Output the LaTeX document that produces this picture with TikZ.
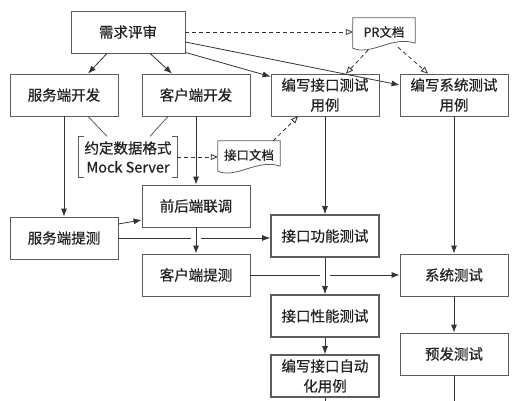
\documentclass[tikz,border=0pt]{standalone}
\usepackage{fontspec}
\newfontfamily\cjk[FakeBold=0.6]{Noto Sans CJK SC}
\usetikzlibrary{arrows.meta,calc}
\definecolor{linegray}{HTML}{333333}
\definecolor{boxgray}{HTML}{5C5C5C}
\definecolor{textgray}{HTML}{222222}

\newcommand{\docoutline}[1]{%
  \draw[boxgray, line width=0.8pt] ([yshift=3pt]#1.south east) -- (#1.north east) -- (#1.north west)
    -- ([yshift=-2pt]#1.south west) .. controls +(18,-8) and +(-22,8) .. ([yshift=3pt]#1.south east);}

\begin{document}
\begin{tikzpicture}[x=1pt, y=1pt,
    box/.style={draw=boxgray, line width=0.8pt, minimum width=108pt, minimum height=42pt,
      inner sep=2pt, align=center, text=textgray, font=\cjk\fontsize{14.5}{20}\selectfont},
    hibox/.style={box, line width=1.6pt},
    doc/.style={minimum width=62pt, minimum height=28pt, inner sep=2pt, text=textgray,
      font=\cjk\fontsize{12.5}{15}\selectfont},
    note/.style={minimum width=98pt, minimum height=41pt, inner sep=2pt, align=center,
      text=textgray, font=\cjk\fontsize{14.5}{19}\selectfont},
    flow/.style={draw=linegray, line width=0.8pt, -{Latex[length=8pt,width=6pt]}},
    ref/.style={draw=linegray, line width=0.8pt, dash pattern=on 4pt off 3pt,
      -{Triangle[open,length=7pt,width=6pt]}},
    jump/.style={preaction={draw=white, line width=10pt, -, shorten <=4pt, shorten >=4pt}}]
    \useasboundingbox (0,0) rectangle (521,400);
    \clip (0,0) rectangle (521,400);

    % Requirements
    \node[box, minimum width=114pt] (xq) at (128,368) {需求评审};
    \node[doc] (pr) at (384,368) {PR文档};
    \docoutline{pr}

    % Development
    \node[box] (fwk) at (64,305) {服务端开发};
    \node[box] (khk) at (196,305) {客户端开发};
    \node[box] (jkyl) at (325,305) {编写接口测试\\用例};
    \node[box] (xtyl) at (454,305) {编写系统测试\\用例};

    % Agreement
    \node[note] (yd) at (128,243) {约定数据格式\\Mock Server};
    \draw[boxgray, line width=0.8pt] ([xshift=5pt]yd.north west) -- (yd.north west) -- (yd.south west) -- ++(5,0);
    \draw[boxgray, line width=0.8pt] ([xshift=-5pt]yd.north east) -- (yd.north east) -- (yd.south east) -- ++(-5,0);
    \node[doc] (jkwd) at (249,245) {接口文档};
    \docoutline{jkwd}

    % Testing
    \node[box] (lt) at (196,194) {前后端联调};
    \node[box] (fwt) at (64,162) {服务端提测};
    \node[box] (kht) at (196,125) {客户端提测};
    \node[hibox] (gn) at (325,164) {接口功能测试};
    \node[box] (xt) at (454,125) {系统测试};
    \node[hibox] (xn) at (325,84) {接口性能测试};
    \node[box] (yf) at (454,46) {预发测试};
    \node[hibox] (zdh) at (325,24) {编写接口自动\\化用例};
    \coordinate (yfout) at (454,-4);
    \coordinate (zdhout) at (325,-4);

    % Links
    \draw[flow] ([xshift=-21pt]xq.south) -- ([xshift=24pt]fwk.north);
    \draw[flow] ([xshift=22pt]xq.south) -- ([xshift=-24pt]khk.north);
    \draw[flow] ([yshift=1pt]xq.south east) -- ([yshift=-3pt]jkyl.north west);
    \draw[flow] ([yshift=-10pt]xq.east) -- ([yshift=10pt]xtyl.west);
    \draw[ref] (xq.east) -- (xq.east -| pr.west);
    \draw[ref] ([xshift=-16pt,yshift=-4pt]pr.south) -- ([xshift=21pt]jkyl.north);
    \draw[ref] ([xshift=14pt,yshift=-1pt]pr.south) -- ([xshift=-26pt]xtyl.north);
    \draw[boxgray, line width=0.8pt] ([xshift=24pt]fwk.south) -- ([xshift=-21pt]yd.north);
    \draw[boxgray, line width=0.8pt] ([xshift=-28pt]khk.south) -- ([xshift=22pt]yd.north);
    \draw[ref] (yd.east) -- (yd.east -| jkwd.west);
    \draw[ref] ([xshift=-7pt]jkwd.north east) -- ([xshift=-27pt]jkyl.south);
    \draw[flow] (fwk.south) -- (fwt.north);
    \draw[flow] (khk.south) -- (lt.north);
    \draw[flow] ([yshift=14pt]fwt.east) -- ([yshift=-14pt]lt.west);
    \draw[flow] (fwt.east) -- (fwt.east -| gn.west);
    \draw[flow] (kht.east) -- (kht.east -| xt.west);
    \draw[flow, jump] (lt.south) -- (kht.north);
    \draw[flow] (jkyl.south) -- (gn.north);
    \draw[flow] (xtyl.south) -- (xt.north);
    \draw[flow, jump] (gn.south) -- (xn.north);
    \draw[flow] (xn.south) -- (zdh.north);
    \draw[flow] (xt.south) -- (yf.north);
    \draw[linegray, line width=0.8pt] (yf.south) -- (yfout);
    \draw[linegray, line width=0.8pt] (zdh.south) -- (zdhout);
\end{tikzpicture}
\end{document}
